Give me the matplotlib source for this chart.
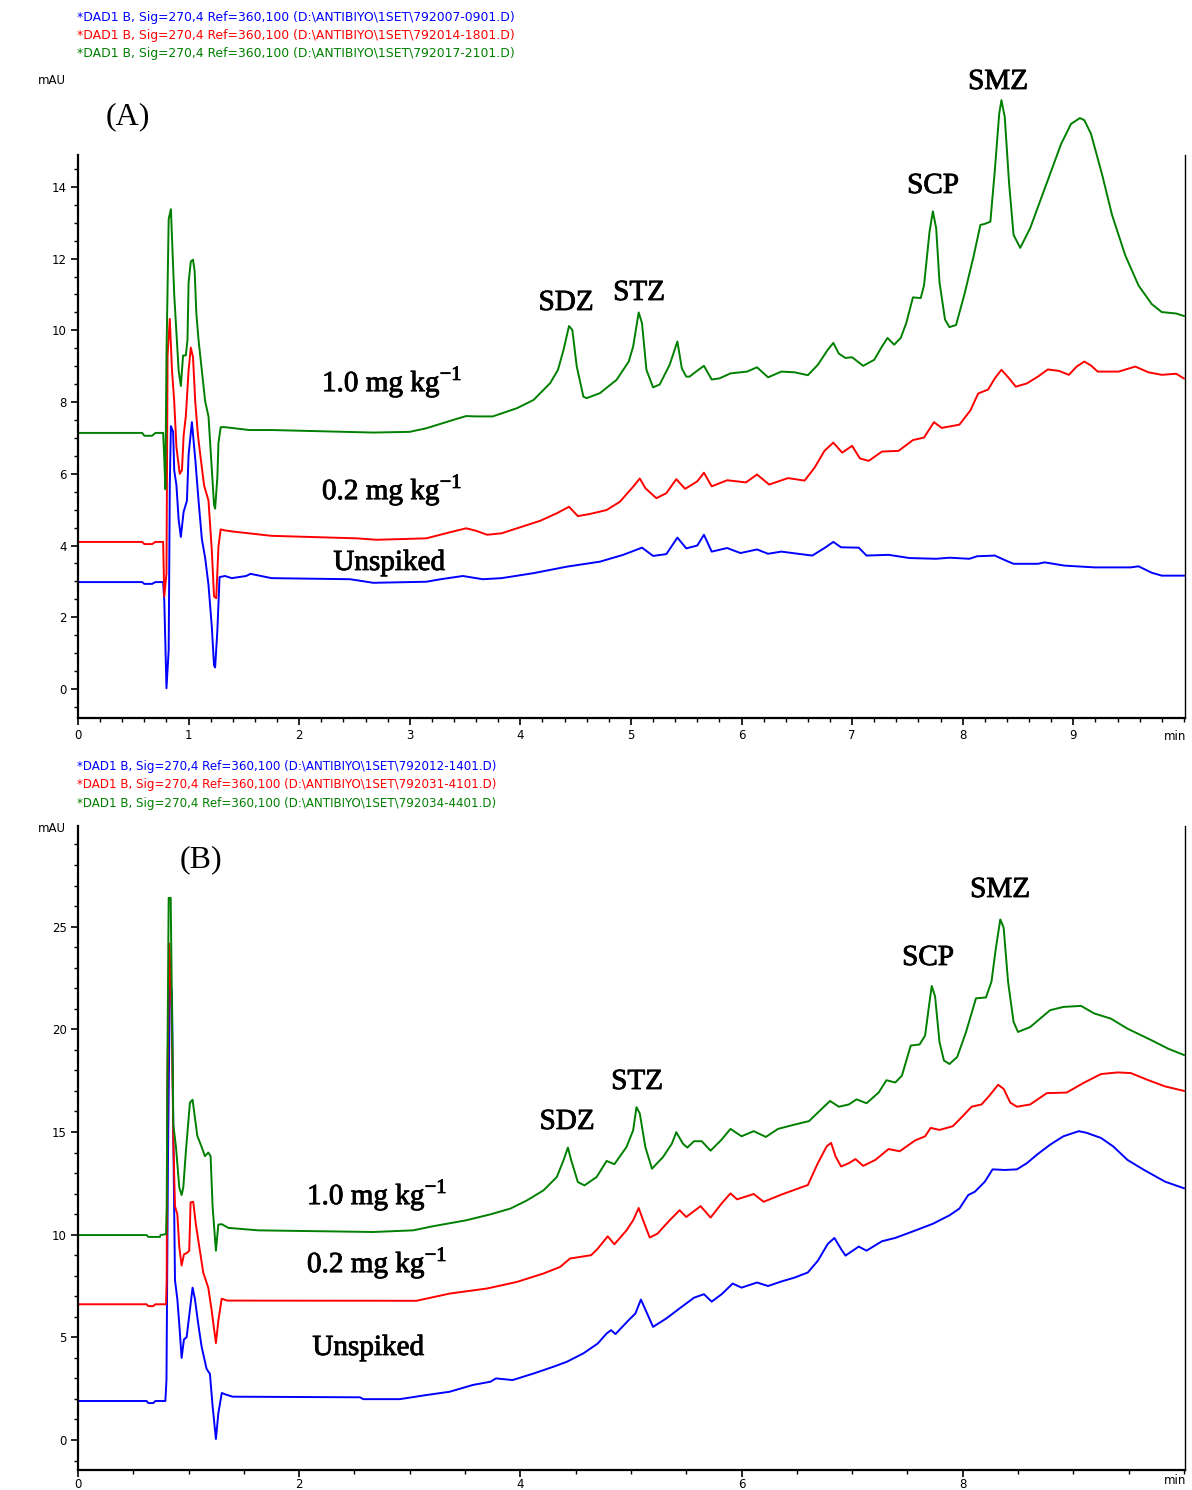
import matplotlib
matplotlib.use("Agg")
import matplotlib.pyplot as plt
import matplotlib.patheffects as pe
from matplotlib.ticker import MultipleLocator

plt.rcParams['mathtext.fontset'] = 'custom'
plt.rcParams['mathtext.rm'] = 'Liberation Serif'

W, H = 1192, 1490

# --- chromatogram A (retention time in min, absorbance in mAU) ---
a_blue_t = [0.0, 0.58, 0.60, 0.67, 0.70, 0.77, 0.78, 0.80, 0.82, 0.83, 0.84, 0.86, 0.87, 0.89, 0.91, 0.93,
            0.955, 0.985, 1.00, 1.03, 1.06, 1.09, 1.12, 1.15, 1.18, 1.21, 1.23, 1.24, 1.26, 1.28, 1.33, 1.39,
            1.52, 1.56, 1.75, 2.46, 2.67, 3.15, 3.28, 3.48, 3.66, 3.83, 4.12, 4.42, 4.72, 4.93, 5.10, 5.20,
            5.32, 5.42, 5.50, 5.60, 5.66, 5.73, 5.87, 5.99, 6.14, 6.24, 6.36, 6.51, 6.64, 6.75, 6.83, 6.90,
            7.06, 7.13, 7.33, 7.52, 7.76, 7.88, 8.06, 8.13, 8.29, 8.39, 8.46, 8.68, 8.74, 8.92, 9.19, 9.52,
            9.59, 9.71, 9.80, 10.0]
a_blue_v = [2.98, 2.98, 2.93, 2.93, 2.98, 2.98, 2.48, 0.02, 1.09, 5.68, 7.33, 7.17, 6.10, 5.68, 4.72, 4.24,
            4.94, 5.25, 6.53, 7.44, 6.42, 5.25, 4.18, 3.65, 2.90, 1.73, 0.66, 0.60, 1.62, 3.12, 3.15, 3.09,
            3.15, 3.21, 3.09, 3.06, 2.96, 2.99, 3.06, 3.15, 3.06, 3.09, 3.23, 3.41, 3.55, 3.74, 3.94, 3.71,
            3.76, 4.22, 3.92, 4.00, 4.30, 3.83, 3.93, 3.79, 3.89, 3.77, 3.83, 3.77, 3.72, 3.93, 4.10, 3.95,
            3.94, 3.72, 3.74, 3.65, 3.63, 3.66, 3.63, 3.70, 3.72, 3.58, 3.49, 3.49, 3.53, 3.44, 3.39, 3.39,
            3.42, 3.24, 3.16, 3.16]

a_red_t = [0.0, 0.58, 0.60, 0.67, 0.70, 0.77, 0.78, 0.80, 0.81, 0.83, 0.85, 0.87, 0.89, 0.92, 0.94, 0.955,
           0.975, 1.00, 1.02, 1.04, 1.06, 1.085, 1.11, 1.14, 1.18, 1.21, 1.23, 1.25, 1.27, 1.29, 1.33, 1.40,
           1.75, 2.52, 2.70, 3.15, 3.39, 3.51, 3.60, 3.70, 3.83, 4.00, 4.18, 4.33, 4.44, 4.52, 4.63, 4.78,
           4.90, 5.02, 5.08, 5.13, 5.23, 5.32, 5.41, 5.49, 5.60, 5.66, 5.73, 5.87, 6.04, 6.14, 6.25, 6.42,
           6.57, 6.66, 6.75, 6.83, 6.91, 7.00, 7.07, 7.15, 7.27, 7.42, 7.55, 7.65, 7.74, 7.81, 7.97, 8.07,
           8.14, 8.23, 8.29, 8.35, 8.42, 8.48, 8.58, 8.68, 8.77, 8.87, 8.96, 9.03, 9.10, 9.16, 9.22, 9.41,
           9.56, 9.68, 9.80, 9.93, 10.0]
a_red_v = [4.10, 4.10, 4.04, 4.04, 4.10, 4.10, 2.58, 3.22, 9.30, 10.32, 8.88, 8.02, 6.74, 6.00, 6.10, 7.06,
           7.60, 8.88, 9.52, 9.25, 8.02, 7.06, 6.42, 5.68, 5.25, 3.86, 2.58, 2.53, 3.97, 4.45, 4.42, 4.39,
           4.27, 4.20, 4.16, 4.20, 4.39, 4.48, 4.41, 4.30, 4.34, 4.51, 4.69, 4.90, 5.08, 4.82, 4.88, 4.99,
           5.22, 5.64, 5.87, 5.60, 5.32, 5.46, 5.85, 5.58, 5.79, 6.03, 5.65, 5.82, 5.76, 5.98, 5.70, 5.88,
           5.81, 6.17, 6.64, 6.87, 6.59, 6.78, 6.43, 6.36, 6.62, 6.64, 6.94, 7.01, 7.44, 7.28, 7.37, 7.77,
           8.24, 8.35, 8.66, 8.90, 8.66, 8.43, 8.52, 8.71, 8.91, 8.87, 8.76, 8.99, 9.13, 9.02, 8.85, 8.85,
           8.99, 8.83, 8.76, 8.79, 8.66]

a_green_t = [0.0, 0.58, 0.60, 0.67, 0.70, 0.77, 0.78, 0.79, 0.80, 0.82, 0.84, 0.85, 0.87, 0.89, 0.91, 0.93,
             0.95, 0.975, 0.99, 1.00, 1.02, 1.04, 1.055, 1.07, 1.09, 1.12, 1.15, 1.18, 1.21, 1.23, 1.24,
             1.26, 1.27, 1.29, 1.33, 1.55, 1.76, 2.67, 3.00, 3.15, 3.39, 3.51, 3.60, 3.75, 3.97, 4.12, 4.27,
             4.34, 4.39, 4.44, 4.47, 4.51, 4.57, 4.60, 4.72, 4.87, 4.98, 5.02, 5.07, 5.10, 5.14, 5.20, 5.26,
             5.35, 5.42, 5.46, 5.50, 5.53, 5.61, 5.66, 5.73, 5.80, 5.90, 6.05, 6.14, 6.24, 6.36, 6.48, 6.60,
             6.69, 6.78, 6.83, 6.88, 6.94, 7.00, 7.10, 7.20, 7.27, 7.32, 7.38, 7.44, 7.49, 7.55, 7.62, 7.65,
             7.70, 7.73, 7.76, 7.79, 7.84, 7.88, 7.94, 8.02, 8.10, 8.16, 8.20, 8.25, 8.29, 8.33, 8.35, 8.38,
             8.42, 8.46, 8.52, 8.61, 8.71, 8.80, 8.89, 8.98, 9.06, 9.10, 9.16, 9.26, 9.35, 9.47, 9.59, 9.71,
             9.80, 9.93, 10.0]
a_green_v = [7.14, 7.14, 7.06, 7.06, 7.14, 7.14, 6.42, 5.57, 9.30, 13.10, 13.38, 12.56, 11.00, 9.95, 8.88, 8.45,
             9.30, 9.30, 9.73, 11.33, 11.92, 11.97, 11.65, 10.48, 9.73, 8.88, 8.02, 7.60, 6.10, 5.14, 5.03,
             5.90, 6.85, 7.30, 7.30, 7.22, 7.22, 7.15, 7.17, 7.27, 7.50, 7.61, 7.60, 7.60, 7.83, 8.06, 8.53,
             8.90, 9.45, 10.12, 10.01, 8.99, 8.15, 8.11, 8.25, 8.62, 9.13, 9.55, 10.50, 10.20, 8.90, 8.41, 8.49,
             9.04, 9.69, 8.94, 8.71, 8.71, 8.90, 9.01, 8.63, 8.66, 8.80, 8.85, 8.97, 8.69, 8.85, 8.83, 8.75,
             9.04, 9.46, 9.65, 9.35, 9.23, 9.25, 9.01, 9.18, 9.55, 9.79, 9.60, 9.79, 10.21, 10.92, 10.90, 11.25,
             12.75, 13.32, 12.85, 11.34, 10.30, 10.09, 10.15, 11.06, 12.09, 12.94, 12.97, 13.03, 14.45, 16.04, 16.42, 15.95,
             14.07, 12.66, 12.30, 12.85, 13.69, 14.45, 15.20, 15.76, 15.92, 15.86, 15.48, 14.35, 13.22, 12.09, 11.25, 10.73,
             10.51, 10.47, 10.40]

# --- chromatogram B ---
b_blue_t = [0.0, 0.62, 0.636, 0.68, 0.70, 0.79, 0.80, 0.814, 0.832, 0.85, 0.862, 0.877, 0.898, 0.916, 0.937,
            0.958, 0.982, 1.012, 1.036, 1.057, 1.088, 1.118, 1.163, 1.193, 1.217, 1.247, 1.269, 1.30, 1.344,
            1.40, 2.55, 2.58, 2.91, 3.15, 3.36, 3.57, 3.73, 3.78, 3.93, 4.12, 4.30, 4.42, 4.57, 4.70, 4.78,
            4.82, 4.86, 4.98, 5.04, 5.09, 5.12, 5.20, 5.32, 5.44, 5.57, 5.66, 5.73, 5.82, 5.92, 6.00, 6.14,
            6.24, 6.36, 6.48, 6.60, 6.69, 6.78, 6.84, 6.90, 6.94, 7.06, 7.13, 7.27, 7.39, 7.57, 7.73, 7.88,
            7.97, 8.05, 8.11, 8.20, 8.27, 8.38, 8.49, 8.58, 8.67, 8.79, 8.91, 9.05, 9.12, 9.25, 9.36, 9.49,
            9.64, 9.83, 10.0]
b_blue_v = [1.90, 1.90, 1.80, 1.80, 1.90, 1.90, 2.92, 13.91, 22.73, 21.60, 14.81, 7.78, 6.88, 5.62, 4.00,
            4.90, 5.00, 6.34, 7.42, 6.88, 5.62, 4.54, 3.46, 3.22, 1.66, 0.05, 1.30, 2.29, 2.20,
            2.11, 2.08, 1.99, 1.99, 2.19, 2.35, 2.68, 2.84, 3.00, 2.92, 3.24, 3.57, 3.81, 4.22, 4.70, 5.19,
            5.35, 5.16, 5.84, 6.16, 6.84, 6.48, 5.51, 5.92, 6.41, 6.93, 7.10, 6.74, 7.10, 7.62, 7.42, 7.67,
            7.50, 7.72, 7.91, 8.16, 8.73, 9.55, 9.84, 9.30, 8.98, 9.42, 9.22, 9.68, 9.84, 10.20, 10.53, 10.94,
            11.27, 11.93, 12.09, 12.58, 13.18, 13.15, 13.18, 13.48, 13.89, 14.38, 14.79, 15.04, 14.96, 14.71, 14.30, 13.64,
            13.15, 12.58, 12.26]

b_red_t = [0.0, 0.62, 0.636, 0.68, 0.70, 0.796, 0.802, 0.808, 0.826, 0.847, 0.862, 0.877, 0.898, 0.916, 0.937,
           0.958, 0.982, 1.006, 1.018, 1.042, 1.066, 1.097, 1.133, 1.178, 1.208, 1.247, 1.269, 1.299, 1.35,
           3.06, 3.36, 3.70, 3.97, 4.21, 4.36, 4.45, 4.64, 4.70, 4.79, 4.85, 4.96, 5.02, 5.07, 5.11, 5.17,
           5.24, 5.35, 5.44, 5.50, 5.63, 5.72, 5.82, 5.90, 5.96, 6.11, 6.20, 6.36, 6.60, 6.69, 6.77, 6.81,
           6.85, 6.90, 6.97, 7.03, 7.10, 7.21, 7.33, 7.43, 7.57, 7.66, 7.71, 7.79, 7.91, 8.00, 8.08, 8.17,
           8.24, 8.32, 8.37, 8.43, 8.49, 8.61, 8.76, 8.94, 9.10, 9.25, 9.40, 9.52, 9.67, 9.83, 10.0]
b_red_v = [6.61, 6.61, 6.52, 6.52, 6.61, 6.61, 7.78, 17.15, 24.17, 20.93, 14.63, 11.38, 11.00, 9.40, 8.50,
           9.04, 9.10, 9.22, 11.57, 11.60, 10.49, 9.40, 8.14, 7.42, 6.34, 4.72, 5.80, 6.88, 6.79,
           6.78, 7.13, 7.38, 7.70, 8.11, 8.43, 8.84, 9.00, 9.32, 9.92, 9.53, 10.21, 10.70, 11.30, 10.70, 9.86,
           10.05, 10.70, 11.19, 10.86, 11.39, 10.83, 11.52, 12.01, 11.72, 11.98, 11.60, 11.95, 12.42, 13.48, 14.30, 14.47,
           13.81, 13.32, 13.48, 13.68, 13.35, 13.64, 14.17, 14.06, 14.59, 14.79, 15.20, 15.10, 15.28, 15.77, 16.23, 16.34,
           16.76, 17.30, 17.10, 16.43, 16.23, 16.34, 16.89, 16.92, 17.41, 17.82, 17.90, 17.87, 17.54, 17.22, 17.00]

b_green_t = [0.0, 0.62, 0.636, 0.74, 0.747, 0.796, 0.802, 0.808, 0.82, 0.838, 0.85, 0.862, 0.886, 0.916, 0.937,
             0.952, 0.976, 1.012, 1.036, 1.057, 1.079, 1.118, 1.148, 1.178, 1.199, 1.217, 1.247, 1.269, 1.30,
             1.36, 1.63, 2.67, 3.03, 3.21, 3.51, 3.73, 3.91, 4.06, 4.21, 4.33, 4.39, 4.43, 4.46, 4.52, 4.58,
             4.69, 4.78, 4.85, 4.96, 5.02, 5.05, 5.08, 5.13, 5.19, 5.29, 5.37, 5.41, 5.47, 5.51, 5.57, 5.64,
             5.72, 5.82, 5.90, 6.00, 6.11, 6.22, 6.33, 6.48, 6.61, 6.72, 6.80, 6.88, 6.97, 7.04, 7.13, 7.24,
             7.31, 7.39, 7.45, 7.53, 7.61, 7.66, 7.70, 7.72, 7.75, 7.79, 7.83, 7.88, 7.95, 8.03, 8.12, 8.21,
             8.26, 8.30, 8.34, 8.37, 8.41, 8.46, 8.50, 8.61, 8.70, 8.79, 8.91, 9.07, 9.19, 9.34, 9.49, 9.71,
             9.86, 10.0]
b_green_v = [9.98, 9.98, 9.89, 9.89, 9.98, 10.03, 11.29, 17.87, 26.40, 26.40, 20.93, 15.35, 14.27, 12.29, 11.93,
             12.29, 14.09, 16.43, 16.57, 15.71, 14.81, 14.27, 13.82, 14.00, 13.82, 11.38, 9.22, 10.49, 10.51,
             10.33, 10.21, 10.13, 10.21, 10.41, 10.70, 10.99, 11.27, 11.67, 12.16, 12.81, 13.62, 14.24, 13.62, 12.56, 12.40,
             12.81, 13.59, 13.43, 14.27, 15.08, 16.21, 15.90, 14.27, 13.21, 13.78, 14.43, 14.99, 14.43, 14.24, 14.55, 14.55,
             14.09, 14.63, 15.15, 14.79, 15.04, 14.76, 15.15, 15.36, 15.53, 16.10, 16.51, 16.23, 16.34, 16.59, 16.40, 16.92,
             17.52, 17.41, 17.74, 19.21, 19.26, 19.70, 21.34, 22.11, 21.60, 19.38, 18.48, 18.31, 18.65, 19.87, 21.51, 21.55,
             22.32, 23.96, 25.35, 24.95, 22.32, 20.36, 19.87, 20.11, 20.52, 20.93, 21.09, 21.14, 20.77, 20.52, 20.03, 19.46,
             19.05, 18.75]

header_a = ["*DAD1 B, Sig=270,4 Ref=360,100 (D:\\ANTIBIYO\\1SET\\792007-0901.D)",
            "*DAD1 B, Sig=270,4 Ref=360,100 (D:\\ANTIBIYO\\1SET\\792014-1801.D)",
            "*DAD1 B, Sig=270,4 Ref=360,100 (D:\\ANTIBIYO\\1SET\\792017-2101.D)"]
header_b = ["*DAD1 B, Sig=270,4 Ref=360,100 (D:\\ANTIBIYO\\1SET\\792012-1401.D)",
            "*DAD1 B, Sig=270,4 Ref=360,100 (D:\\ANTIBIYO\\1SET\\792031-4101.D)",
            "*DAD1 B, Sig=270,4 Ref=360,100 (D:\\ANTIBIYO\\1SET\\792034-4401.D)"]

peak_names = ["SDZ", "STZ", "SCP", "SMZ"]
level_names = ["1.0 mg kg$^{\\mathrm{-1}}$", "0.2 mg kg$^{\\mathrm{-1}}$", "Unspiked"]

colors = ['#0000ff', '#ff0000', '#008000']
serif = 'Liberation Serif'
ink = [pe.withStroke(linewidth=0.6, foreground='black')]


def fx(px):
    return px / W


def fy(py):
    return 1 - py / H


fig = plt.figure(figsize=(W / 100, H / 100), dpi=100)


def panel(top, bottom, ylim, ymaj, ymin, xticks, xmin, traces, xpad=3):
    ax = fig.add_axes([fx(78), fy(bottom), fx(1185 - 78), (bottom - top) / H])
    for (t, v), c in zip(traces, colors):
        ax.plot(t, v, color=c, lw=1.4, clip_on=False)
    ax.spines['top'].set_visible(False)
    for s in ['left', 'bottom']:
        ax.spines[s].set_linewidth(1.6)
    ax.spines['right'].set_linewidth(1.0)
    ax.set_xticks(xticks)
    ax.xaxis.set_minor_locator(MultipleLocator(xmin))
    ax.yaxis.set_major_locator(MultipleLocator(ymaj))
    ax.yaxis.set_minor_locator(MultipleLocator(ymin))
    ax.tick_params(which='major', direction='out', length=5, width=1.2, labelsize=8.5, pad=3)
    ax.tick_params(which='minor', direction='out', length=3, width=1.0)
    ax.tick_params(axis='x', pad=xpad)
    ax.set_xlim(0, 10.01)
    ax.set_ylim(*ylim)
    ax.set_facecolor('none')
    return ax


ax_a = panel(155, 718, (-0.81, 14.89), 2, 0.5, range(0, 10), 0.2,
             [(a_blue_t, a_blue_v), (a_red_t, a_red_v), (a_green_t, a_green_v)])
ax_b = panel(826, 1470, (-1.46, 29.9), 5, 1, range(0, 10, 2), 0.5,
             [(b_blue_t, b_blue_v), (b_red_t, b_red_v), (b_green_t, b_green_v)], xpad=0.5)

# file headers
for i, (line, c) in enumerate(zip(header_a, colors)):
    fig.text(fx(77), fy(17 + 18.5 * i), line, color=c, fontsize=8.9, va='center', ha='left')
for i, (line, c) in enumerate(zip(header_b, colors)):
    fig.text(fx(77), fy(767 + 18 * i), line, color=c, fontsize=8.6, va='center', ha='left')

fig.text(fx(38), fy(80), "mAU", fontsize=8.5, va='center', ha='left')
fig.text(fx(38), fy(829), "mAU", fontsize=8.5, va='center', ha='left')
fig.text(fx(1164), fy(737), "min", fontsize=8.5, va='center', ha='left')
fig.text(fx(1164), fy(1481), "min", fontsize=8.5, va='center', ha='left')

# panel letters
fig.text(fx(128), fy(117), "(A)", fontsize=23, family=serif, ha='center', va='center')
fig.text(fx(201), fy(860), "(B)", fontsize=23, family=serif, ha='center', va='center')

# peak and level labels
a_peak_pos = [(566, 303), (639, 293), (933, 186), (998, 82)]
a_level_pos = [(392, 382), (392, 490), (389, 563)]
b_peak_pos = [(567, 1122), (637, 1082), (928, 958), (1000, 890)]
b_level_pos = [(377, 1195), (377, 1263), (368, 1348)]

for names, pos in [(peak_names, a_peak_pos), (level_names, a_level_pos),
                   (peak_names, b_peak_pos), (level_names, b_level_pos)]:
    for name, (x, y) in zip(names, pos):
        fig.text(fx(x), fy(y), name, fontsize=21, family=serif, ha='center', va='center',
                 path_effects=ink)

fig.savefig("out.png", dpi=100, facecolor='white')
